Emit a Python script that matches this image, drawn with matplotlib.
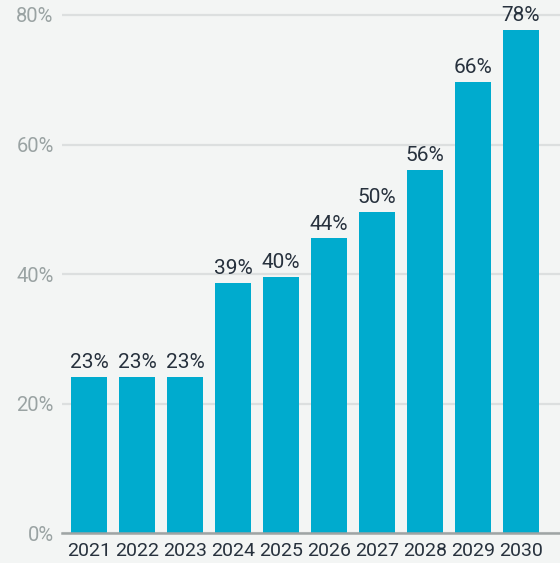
import matplotlib.pyplot as plt

# ── Data ─────────────────────────────────────────────────────────────────────
years  = ['2021', '2022', '2023', '2024', '2025', '2026', '2027', '2028', '2029', '2030']
values = [24.1, 24.1, 24.1, 38.6, 39.6, 45.5, 49.6, 56.1, 69.7, 77.7]
labels = ['23%', '23%', '23%', '39%', '40%', '44%', '50%', '56%', '66%', '78%']
yticks = [0, 20, 40, 60, 80]

BG      = '#f3f5f4'
BAR     = '#00abce'
GRID    = '#dcdfdf'
BASE    = '#9ea4a4'
TICK_Y  = '#9aa3a3'
DARK    = '#27313d'

plt.rcParams['font.family'] = ['Roboto', 'DejaVu Sans']

# ── Plot ─────────────────────────────────────────────────────────────────────
fig = plt.figure(figsize=(5.6, 5.63), dpi=100)
fig.patch.set_facecolor(BG)
ax = fig.add_axes([62 / 560, 29.7 / 563, 1 - 62 / 560, 533.3 / 563])
ax.set_facecolor(BG)

x = range(len(years))
bars = ax.bar(x, values, width=0.757, color=BAR, zorder=3)

for b, lab in zip(bars, labels):
    ax.annotate(lab, (b.get_x() + b.get_width() / 2, b.get_height()),
                xytext=(0, 3.5), textcoords='offset points',
                ha='center', va='bottom', fontsize=15, color=DARK)

ax.set_xlim(-0.567, 9.817)
ax.set_ylim(0, 82.3)

ax.set_yticks(yticks)
ax.set_yticklabels([f'{v}%' for v in yticks])
ax.set_xticks(list(x))
ax.set_xticklabels(years)

ax.tick_params(axis='y', length=0, pad=6, labelsize=14.5, labelcolor=TICK_Y)
ax.tick_params(axis='x', length=0, pad=6, labelsize=14, labelcolor=DARK)

ax.grid(axis='y', color=GRID, linewidth=1.6, zorder=0)
ax.set_axisbelow(True)

for side in ['top', 'right', 'left']:
    ax.spines[side].set_visible(False)
ax.spines['bottom'].set_color(BASE)
ax.spines['bottom'].set_linewidth(1.8)
ax.spines['bottom'].set_zorder(4)

plt.savefig('out.png', dpi=100, facecolor=BG)
